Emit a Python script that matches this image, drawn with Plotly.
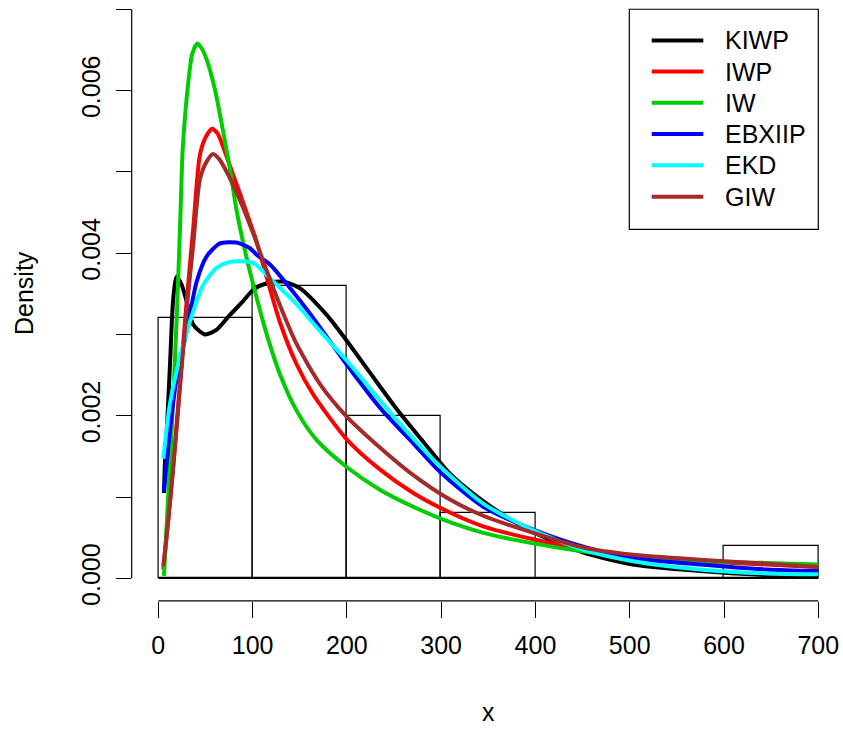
import plotly.graph_objects as go

W, H = 843, 735

# ---------------- data ----------------
bin_centers = [50, 150, 250, 350, 450, 550, 650]
bin_density = [0.0032, 0.0036, 0.0020, 0.0008, 0.0, 0.0, 0.0004]

x_tick_vals = [0, 100, 200, 300, 400, 500, 600, 700]
y_tick_vals = [0.000, 0.001, 0.002, 0.003, 0.004, 0.005, 0.006, 0.007]
y_tick_text = ["0.000", "", "0.002", "", "0.004", "", "0.006", ""]

series_names = ["KIWP", "IWP", "IW", "EBXIIP", "EKD", "GIW"]

kiwp_x = [6, 7, 9, 12.4, 15.9, 19.5, 24.8, 30, 37, 49.5, 62, 76, 90, 100.7, 115,
          132.6, 150, 178.6, 200, 224.5, 253, 281, 309, 341, 370, 397, 450, 503, 574, 645, 700]
kiwp_y = [0.00105, 0.00141, 0.00182, 0.00263, 0.00345, 0.00371, 0.00361, 0.00341, 0.00312,
          0.00300, 0.00306, 0.00324, 0.00341, 0.00355, 0.00363, 0.00365, 0.00357, 0.00324,
          0.00292, 0.00253, 0.00208, 0.00168, 0.00129, 0.00098, 0.00075, 0.00057, 0.00032,
          0.00017, 0.00009, 0.00004, 0.00002]

iwp_x = [5.3, 10, 16, 23, 30, 37, 44, 50, 57, 63, 69, 79.5, 90, 104.3, 115, 129, 146.8,
         164.4, 199.8, 235, 270.4, 309.3, 344.6, 397.7, 450.7, 503.7, 574.4, 645, 700]
iwp_y = [0.00011, 0.00065, 0.00141, 0.00240, 0.00340, 0.00430, 0.00520, 0.00542, 0.00553,
         0.00547, 0.00530, 0.00496, 0.00462, 0.00414, 0.00370, 0.00315, 0.00263, 0.00226,
         0.00171, 0.00134, 0.00105, 0.00081, 0.00064, 0.00048, 0.00036, 0.00027, 0.00021,
         0.00017, 0.00014]

iw_x = [6, 10, 14.2, 19.5, 23, 26, 31.8, 36, 41.4, 46, 51.3, 60.1, 68.9, 76, 83.1, 93.7,
        104.3, 115, 129, 146.8, 168, 199.8, 235, 270.4, 309.3, 344.6, 397.7, 450.7, 503.7,
        574.4, 645, 700]
iw_y = [0.00003, 0.0009, 0.00182, 0.0032, 0.0043, 0.0053, 0.0061, 0.00645, 0.00658,
        0.00652, 0.00638, 0.00601, 0.00549, 0.00503, 0.00452, 0.00394, 0.00345, 0.00300,
        0.00251, 0.00206, 0.00170, 0.00137, 0.00109, 0.00088, 0.00069, 0.00056, 0.00043,
        0.00033, 0.00026, 0.00021, 0.00019, 0.00017]

ebxiip_x = [6, 12.4, 19.5, 30.1, 40.7, 51.3, 65.4, 83, 97.2, 104.3, 118.5, 139.7, 164.4,
            199.8, 235, 270.4, 298.7, 344.6, 397.7, 450.7, 503.7, 574.4, 645, 700]
ebxiip_y = [0.00107, 0.00182, 0.00247, 0.00304, 0.00365, 0.00396, 0.00412, 0.00413,
            0.00406, 0.00398, 0.00386, 0.00357, 0.00320, 0.00263, 0.00210, 0.00166,
            0.00131, 0.00088, 0.00060, 0.00039, 0.00025, 0.00017, 0.00011, 0.00009]

ekd_x = [5.3, 12.4, 23, 33.6, 47.7, 61.9, 75, 86.6, 100.7, 122, 146.8, 171.5, 199.8, 235,
         270.4, 298.7, 344.6, 397.7, 450.7, 503.7, 574.4, 645, 700]
ekd_y = [0.00147, 0.00215, 0.00272, 0.00316, 0.00361, 0.00382, 0.00389, 0.00390, 0.00388,
         0.00365, 0.00337, 0.00304, 0.00268, 0.00219, 0.00172, 0.00138, 0.00092, 0.00059,
         0.00035, 0.00021, 0.00011, 0.00006, 0.00005]

giw_x = [5.3, 10, 16, 23, 30, 37, 44, 51, 58, 65, 72.5, 86.6, 100.7, 111.3, 129, 146.8,
         171.5, 199.8, 235, 270.4, 309.3, 344.6, 397.7, 450.7, 503.7, 574.4, 645, 700]
giw_y = [0.00015, 0.00065, 0.00138, 0.00235, 0.00330, 0.00410, 0.00490, 0.00512, 0.00522,
         0.00515, 0.00500, 0.00465, 0.00424, 0.00390, 0.00336, 0.00288, 0.00239, 0.00199,
         0.00161, 0.00127, 0.00097, 0.00077, 0.00056, 0.00038, 0.00029, 0.00023, 0.00018,
         0.00014]

series_x = [kiwp_x, iwp_x, iw_x, ebxiip_x, ekd_x, giw_x]
series_y = [kiwp_y, iwp_y, iw_y, ebxiip_y, ekd_y, giw_y]
series_colors = ["#000000", "#FF0000", "#00CD00", "#0000FF", "#00FFFF", "#A52A2A"]

# ---------------- layout geometry (pixels) ----------------
def px(v):
    return v / W

def py(v):
    return (H - v) / H

x0_px, x700_px = 158.3, 818.3
sx = (x700_px - x0_px) / 700.0
y0_px, y7_px = 582.3, 9.3
sy = (y0_px - y7_px) / 0.007

left_px, bottom_px = 131.7, 605.0
x_range = [(left_px - x0_px) / sx, (W - x0_px) / sx]
y_range = [(y0_px - bottom_px) / sy, (y0_px - 0) / sy]

FONT = "Liberation Sans, Arial, sans-serif"

fig = go.Figure()

# histogram
fig.add_trace(go.Bar(
    x=bin_centers, y=bin_density, width=100,
    marker=dict(color="rgba(0,0,0,0)", line=dict(color="#000000", width=1.2)),
    showlegend=False, hoverinfo="skip",
))

for name, xs, ys, col in zip(series_names, series_x, series_y, series_colors):
    fig.add_trace(go.Scatter(
        x=xs, y=ys, mode="lines", name=name,
        line=dict(color=col, width=4, shape="spline", smoothing=0.7),
        showlegend=False, hoverinfo="skip",
    ))

shapes = []
# axis lines (R-style: from first to last tick)
shapes.append(dict(type="line", xref="x", yref="paper", x0=0, x1=700,
                   y0=py(bottom_px), y1=py(bottom_px), line=dict(color="#000000", width=1.2)))
shapes.append(dict(type="line", xref="paper", yref="y", x0=px(left_px), x1=px(left_px),
                   y0=0, y1=0.007, line=dict(color="#000000", width=1.2)))
# baseline across empty bins
shapes.append(dict(type="line", xref="x", yref="y", x0=0, x1=700, y0=0, y1=0,
                   line=dict(color="#000000", width=1.2)))

# manual legend
leg_l, leg_r, leg_t, leg_b = 629.3, 818.3, 9.3, 231.0
shapes.append(dict(type="rect", xref="paper", yref="paper",
                   x0=px(leg_l), x1=px(leg_r), y0=py(leg_b), y1=py(leg_t),
                   line=dict(color="#000000", width=1.2), fillcolor="white"))
row_y = [40.7, 72.0, 103.5, 135.0, 166.5, 198.0]
annotations = []
for name, col, ry in zip(series_names, series_colors, row_y):
    shapes.append(dict(type="line", xref="paper", yref="paper",
                       x0=px(651.7), x1=px(703.3), y0=py(ry), y1=py(ry),
                       line=dict(color=col, width=4)))
    annotations.append(dict(text=name, xref="paper", yref="paper", x=px(723), y=py(ry),
                            xanchor="left", yanchor="middle", showarrow=False,
                            font=dict(family=FONT, size=25, color="#000000")))

# axis titles
annotations.append(dict(text="x", xref="paper", yref="paper", x=px(488), y=py(717),
                        xanchor="center", yanchor="middle", showarrow=False,
                        font=dict(family=FONT, size=25, color="#000000")))
annotations.append(dict(text="Density", xref="paper", yref="paper", x=px(24), y=py(295),
                        xanchor="center", yanchor="middle", showarrow=False, textangle=-90,
                        font=dict(family=FONT, size=25, color="#000000")))

fig.update_layout(
    width=W, height=H, autosize=False,
    margin=dict(l=0, r=0, t=0, b=0, pad=0),
    paper_bgcolor="white", plot_bgcolor="white",
    showlegend=False, hovermode=False, bargap=0,
    shapes=shapes, annotations=annotations,
    xaxis=dict(domain=[px(left_px), 1.0], range=x_range, showgrid=False, zeroline=False,
               showline=False, tickmode="array", tickvals=x_tick_vals,
               ticktext=[str(v) for v in x_tick_vals],
               ticks="outside", ticklen=16, tickwidth=1.2, tickcolor="#000000",
               ticklabelstandoff=6,
               tickfont=dict(family=FONT, size=25, color="#000000")),
    yaxis=dict(domain=[py(bottom_px), 1.0], range=y_range, showgrid=False, zeroline=False,
               showline=False, tickmode="array", tickvals=y_tick_vals, ticktext=y_tick_text,
               ticks="outside", ticklen=15, tickwidth=1.2, tickcolor="#000000",
               tickangle=-90, ticklabelstandoff=6,
               tickfont=dict(family=FONT, size=25, color="#000000")),
)

fig.write_html("out.html")
